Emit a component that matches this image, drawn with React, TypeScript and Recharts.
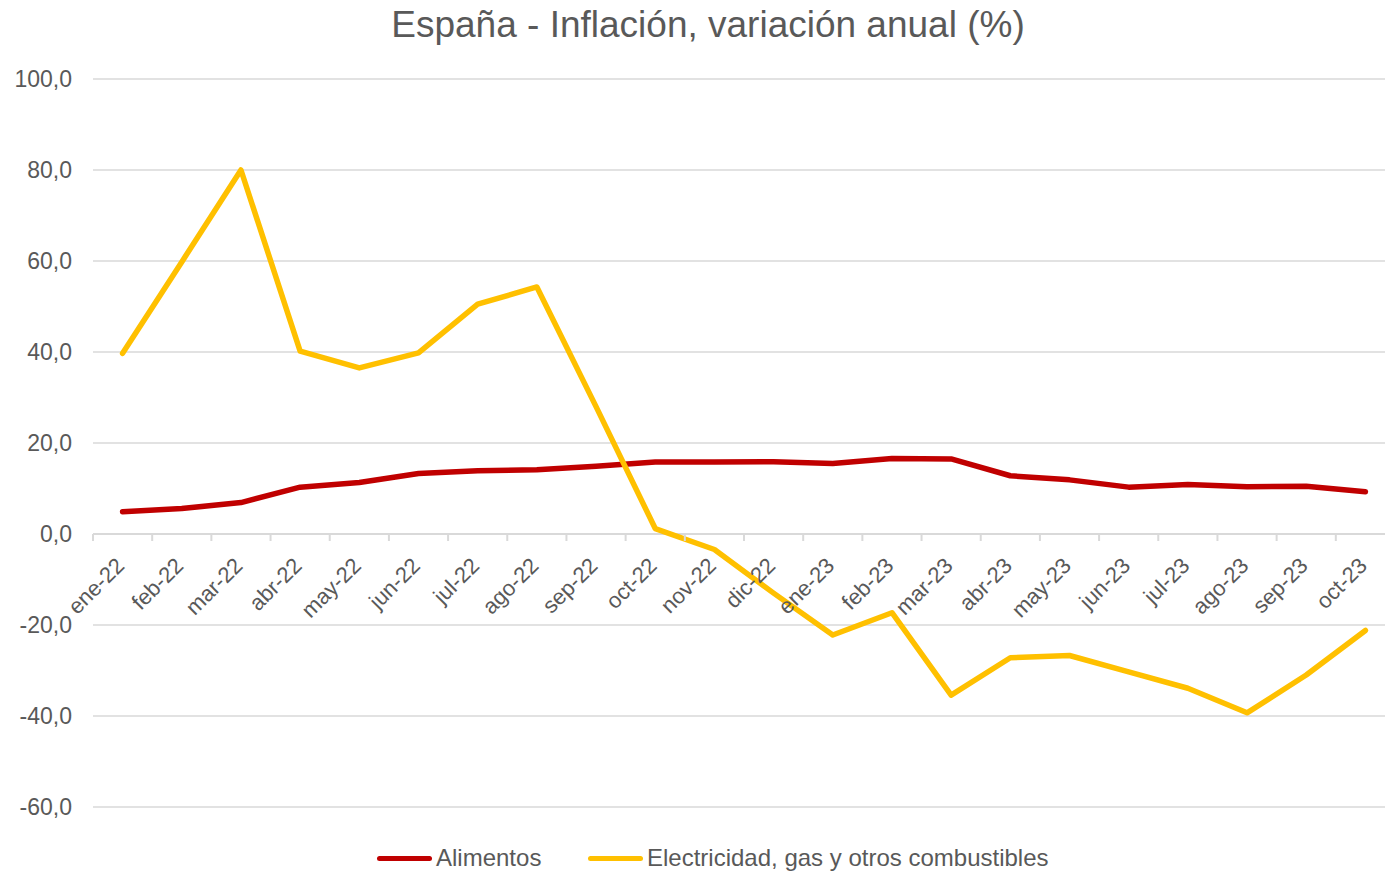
import React from 'react';
import {
  LineChart,
  Line,
  XAxis,
  YAxis,
  CartesianGrid,
  ReferenceLine,
} from 'recharts';

// meses (ene-22 .. oct-23)
const months = [
  'ene-22', 'feb-22', 'mar-22', 'abr-22', 'may-22', 'jun-22', 'jul-22', 'ago-22',
  'sep-22', 'oct-22', 'nov-22', 'dic-22', 'ene-23', 'feb-23', 'mar-23', 'abr-23',
  'may-23', 'jun-23', 'jul-23', 'ago-23', 'sep-23', 'oct-23',
];

// variación anual (%)
const alimentos = [
  4.9, 5.6, 6.9, 10.3, 11.3, 13.3, 13.9, 14.1, 14.9, 15.8, 15.8, 15.9,
  15.5, 16.6, 16.5, 12.8, 11.9, 10.3, 10.9, 10.4, 10.5, 9.3,
];
const electricidad = [
  39.7, 59.8, 80.0, 40.2, 36.5, 39.8, 50.5, 54.3, 28.0, 1.2, -3.4, -13.0,
  -22.2, -17.3, -35.4, -27.2, -26.7, -30.3, -33.9, -39.3, -31.0, -21.2,
];

const yTicks = [-60, -40, -20, 0, 20, 40, 60, 80, 100];
const Y_MIN = -60;
const Y_MAX = 100;

const FONT = '"Liberation Sans", Arial, sans-serif';
const TEXT = '#595959';
const GRID = '#d9d9d9';
const RED = '#C00000';
const YELLOW = '#FFC000';

// layout
const CHART_W = 1400;
const CHART_H = 872;
const TOP = 79;
const BOTTOM = 65;
const AXIS_H = 1;
const PLOT_H = CHART_H - TOP - BOTTOM;
// distancia desde el borde inferior del área hasta la línea del 0
const ZERO_OFFSET = (PLOT_H * (0 - Y_MIN)) / (Y_MAX - Y_MIN);

const data = months.map((m, i) => ({
  i,
  mes: m,
  alimentos: alimentos[i],
  electricidad: electricidad[i],
}));

const labelTicks = months.map((_, i) => i);
const boundaryTicks = [...months.map((_, i) => i - 0.5), months.length - 0.5];

const fmt = (v: number) => v.toFixed(1).replace('.', ',');

// etiqueta del mes, girada, colgando de la línea del 0
const MonthTick = (props: any) => {
  const { x, y, payload } = props;
  const zeroY = y - ZERO_OFFSET;
  const px = x + 3;
  const py = zeroY + 32;
  return (
    <text
      x={px}
      y={py}
      transform={`rotate(-45, ${px}, ${py})`}
      textAnchor="end"
      fill={TEXT}
      fontSize={22}
      fontFamily={FONT}
    >
      {months[payload.value]}
    </text>
  );
};

// marcas entre categorías (estilo Excel)
const BoundaryTick = (props: any) => {
  const { x, y } = props;
  const zeroY = y - ZERO_OFFSET;
  return <line x1={x} x2={x} y1={zeroY} y2={zeroY + 7} stroke={GRID} strokeWidth={2} />;
};

const legendItems = [
  { label: 'Alimentos', color: RED, left: 377 },
  { label: 'Electricidad, gas y otros combustibles', color: YELLOW, left: 588 },
];

const App = () => {
  return (
    <div
      style={{
        position: 'absolute',
        left: 0,
        top: 0,
        width: 1385,
        height: 872,
        overflow: 'hidden',
        background: '#fff',
        fontFamily: FONT,
      }}
    >
      <div
        style={{
          position: 'absolute',
          top: 5,
          left: 708,
          transform: 'translateX(-50%)',
          whiteSpace: 'nowrap',
          fontSize: 37,
          lineHeight: '40px',
          color: TEXT,
        }}
      >
        España - Inflación, variación anual (%)
      </div>

      <LineChart
        width={CHART_W}
        height={CHART_H}
        data={data}
        margin={{ top: TOP, right: 5, bottom: BOTTOM - 2 * AXIS_H, left: 0 }}
      >
        <CartesianGrid vertical={false} stroke={GRID} strokeWidth={1.5} />
        <XAxis
          xAxisId="lab"
          dataKey="i"
          type="number"
          domain={[-0.5, months.length - 0.5]}
          ticks={labelTicks}
          interval={0}
          height={AXIS_H}
          axisLine={false}
          tickLine={false}
          tickSize={0}
          tickMargin={0}
          tick={(p: any) => <MonthTick {...p} />}
        />
        <XAxis
          xAxisId="bnd"
          dataKey="i"
          type="number"
          domain={[-0.5, months.length - 0.5]}
          ticks={boundaryTicks}
          interval={0}
          height={AXIS_H}
          axisLine={false}
          tickLine={false}
          tickSize={0}
          tickMargin={0}
          tick={(p: any) => <BoundaryTick {...p} />}
        />
        <YAxis
          domain={[Y_MIN, Y_MAX]}
          ticks={yTicks}
          interval={0}
          width={93}
          axisLine={false}
          tickLine={false}
          tickSize={0}
          tickMargin={21}
          tickFormatter={fmt}
          tick={{ fill: TEXT, fontSize: 23, fontFamily: FONT }}
        />
        <ReferenceLine xAxisId="lab" y={0} stroke={GRID} strokeWidth={2} />
        <Line
          xAxisId="lab"
          type="linear"
          dataKey="alimentos"
          name="Alimentos"
          stroke={RED}
          strokeWidth={5.5}
          dot={false}
          strokeLinecap="round"
          strokeLinejoin="round"
          isAnimationActive={false}
        />
        <Line
          xAxisId="lab"
          type="linear"
          dataKey="electricidad"
          name="Electricidad, gas y otros combustibles"
          stroke={YELLOW}
          strokeWidth={5.5}
          dot={false}
          strokeLinecap="round"
          strokeLinejoin="round"
          isAnimationActive={false}
        />
      </LineChart>

      {/* leyenda */}
      {legendItems.map((it) => (
        <div
          key={it.label}
          style={{
            position: 'absolute',
            top: 844,
            left: it.left,
            display: 'flex',
            alignItems: 'center',
            fontSize: 24,
            lineHeight: '28px',
            color: TEXT,
            whiteSpace: 'nowrap',
          }}
        >
          <span
            style={{
              display: 'inline-block',
              width: 55,
              height: 5,
              borderRadius: 3,
              background: it.color,
              marginRight: 4,
            }}
          />
          <span>{it.label}</span>
        </div>
      ))}
    </div>
  );
};

export default App;
